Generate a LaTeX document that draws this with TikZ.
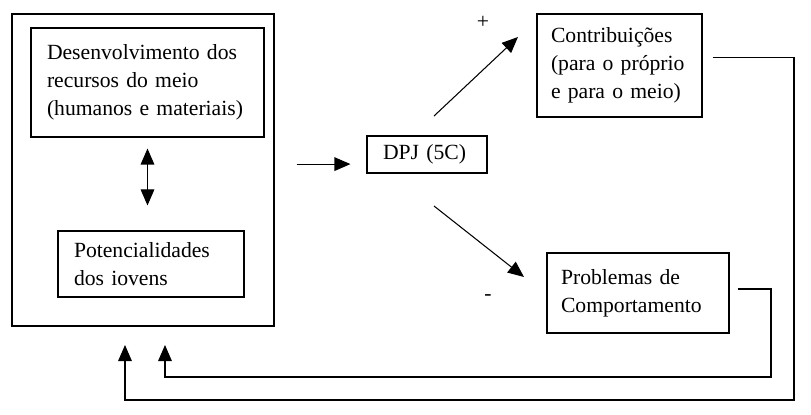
\documentclass[tikz,border=0pt]{standalone}
\usepackage{fontspec}
\setmainfont{Liberation Serif}
\usetikzlibrary{arrows.meta}
\begin{document}
\begin{tikzpicture}[font=\fontsize{15.4}{20}\selectfont, line width=0.75pt]
  \tikzset{ box/.style={draw, align=left, inner xsep=0.4cm, inner ysep=0pt},
            arr/.style={-{Triangle[length=0.4cm,width=0.34cm]}},
            twoarr/.style={{Triangle[length=0.4cm,width=0.34cm]}-{Triangle[length=0.4cm,width=0.34cm]}} };
  \useasboundingbox (0,0) rectangle (20.275,-10.375);
  % left block
  \node[draw, minimum width=6.55cm, minimum height=7.8cm] (out) at (3.575,-4.25) {};
  \node[box, text width=5.025cm, minimum height=2.725cm] (des) at (3.6875,-2.0625)
    {Desenvolvimento dos\\recursos do meio\\(humanos e materiais)};
  \node[box, text width=3.85cm, minimum height=1.65cm] (pot) at (3.775,-6.6)
    {Potencialidades\\dos iovens};
  \draw[twoarr, shorten <=0.275cm, shorten >=0.625cm] (des.south) -- (des.south |- pot.north);
  % middle and right
  \node[box, text width=2.2cm, minimum height=0.925cm] (dpj) at (10.675,-3.8625) {DPJ (5C)};
  \node[box, text width=3.425cm, minimum height=2.575cm, inner xsep=0.35cm] (con) at (15.4875,-1.6375)
    {Contribuições\\(para o próprio\\e para o meio)};
  \node[box, text width=3.85cm, minimum height=2.0cm, inner xsep=0.35cm] (pro) at (15.95,-7.325)
    {Problemas de\\Comportamento};
  \node (plus) at (12.075,-0.55) {+};
  \node (minus) at (12.2,-7.45) {-};
  \coordinate (m) at ([yshift=-0.24cm]dpj.west);
  \draw[arr, shorten <=0.55cm, shorten >=0.4cm] (out.east |- m) -- (m);
  \coordinate (u1) at (10.85,-2.9);
  \coordinate (u2) at (12.95,-0.925);
  \draw[arr] (u1) -- (u2);
  \coordinate (d1) at (10.85,-5.15);
  \coordinate (d2) at (13.1,-6.925);
  \draw[arr] (d1) -- (d2);
  % feedback
  \coordinate (fb1) at (3.125,-8.625);
  \coordinate (fb2) at (4.125,-8.625);
  \draw[arr] ([shift={(0.25,0.2)}]con.east) -| (19.85,-10) -| (fb1);
  \draw[arr] ([shift={(0.2,0.1)}]pro.east) -| (19.275,-9.425) -| (fb2);
\end{tikzpicture}
\end{document}
